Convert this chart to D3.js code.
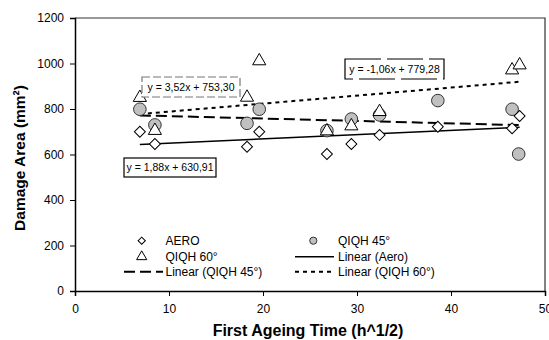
<!DOCTYPE html>
<html><head><meta charset="utf-8">
<script src="https://cdn.jsdelivr.net/npm/d3@7"></script>
<style>body{margin:0;background:#fff}svg{display:block;font-family:"Liberation Sans",Arial,sans-serif}</style>
</head><body><svg id="c" width="549" height="340"></svg>
<script>
// ---- data ----
const aeroX  = [6.9, 8.5, 18.3, 19.6, 26.8, 29.4, 32.4, 38.6, 46.5, 47.3];
const aeroY  = [700, 646, 634, 700, 602, 646, 686, 722, 715, 769];
const q45X   = [6.9, 8.5, 18.3, 19.6, 26.8, 29.4, 32.4, 38.6, 46.5, 47.2];
const q45Y   = [799, 730, 737, 799, 705, 756, 774, 837, 799, 602];
const q60X   = [6.9, 8.5, 18.3, 19.6, 26.8, 29.4, 32.4, 46.5, 47.3];
const q60Y   = [850, 705, 851, 1011, 703, 725, 788, 971, 993];
const trendNames = ["Linear (Aero)", "Linear (QIQH 45°)", "Linear (QIQH 60°)"];
const trendSlope = [1.88, -1.06, 3.52];
const trendIntercept = [630.91, 779.28, 753.30];
const trendLabels = ["y = 1,88x + 630,91", "y = -1,06x + 779,28", "y = 3,52x + 753,30"];
const xTicks = [0, 10, 20, 30, 40, 50];
const yTicks = [0, 200, 400, 600, 800, 1000, 1200];
const legendLabels = ["AERO", "QIQH 45°", "QIQH 60°", "Linear (Aero)", "Linear (QIQH 45°)", "Linear (QIQH 60°)"];

const svg = d3.select("#c");
const L = 75, R = 545, T = 18, B = 291;
const x = d3.scaleLinear().domain([0, 50]).range([L, R]);
const y = d3.scaleLinear().domain([0, 1200]).range([B, T]);

// frame
svg.append("path").attr("d", `M${L},${T}H${R}V${B}`).attr("fill", "none").attr("stroke", "#333").attr("stroke-width", 1.2);

// axes
const xa = svg.append("g").attr("transform", `translate(0,${B})`)
  .call(d3.axisBottom(x).tickValues(xTicks).tickFormat(d3.format("d")).tickSize(5).tickPadding(8));
const ya = svg.append("g").attr("transform", `translate(${L},0)`)
  .call(d3.axisLeft(y).tickValues(yTicks).tickFormat(d3.format("d")).tickSize(5).tickPadding(6));
[xa, ya].forEach(a => {
  a.select(".domain").attr("stroke", "#000").attr("stroke-width", 1.5);
  a.selectAll(".tick line").attr("stroke", "#000").attr("stroke-width", 1);
  a.selectAll("text").attr("font-size", 12).attr("fill", "#000").attr("font-family", "Liberation Sans, Arial, sans-serif");
});

// trend lines
const dashes = [null, "11,5", "4,4"];
const widths = [1.5, 2, 2];
const allX = aeroX.concat(q45X, q60X);
const xMin = d3.min(allX), xMax = d3.max(allX);
trendSlope.forEach((m, i) => {
  const p = svg.append("line")
    .attr("x1", x(xMin)).attr("y1", y(m * xMin + trendIntercept[i]))
    .attr("x2", x(xMax)).attr("y2", y(m * xMax + trendIntercept[i]))
    .attr("stroke", "#000").attr("stroke-width", widths[i]);
  if (dashes[i]) p.attr("stroke-dasharray", dashes[i]);
});

// markers
const diamond = d3.symbol().type(d3.symbolSquare).size(60);
const tri = d3.symbol().type(d3.symbolTriangle).size(75);
function drawCircles(xs, ys) {
  svg.append("g").selectAll("circle").data(xs).join("circle")
    .attr("cx", d => x(d)).attr("cy", (d, i) => y(ys[i])).attr("r", 6.3)
    .attr("fill", "#c0c0c0").attr("stroke", "#333").attr("stroke-width", 1);
}
function drawDiamonds(xs, ys) {
  svg.append("g").selectAll("path").data(xs).join("path")
    .attr("d", diamond)
    .attr("transform", (d, i) => `translate(${x(d)},${y(ys[i])}) rotate(45)`)
    .attr("fill", "#fff").attr("stroke", "#000").attr("stroke-width", 1);
}
function drawTris(xs, ys) {
  svg.append("g").selectAll("path").data(xs).join("path")
    .attr("d", tri)
    .attr("transform", (d, i) => `translate(${x(d)},${y(ys[i])})`)
    .attr("fill", "#fff").attr("stroke", "#000").attr("stroke-width", 1);
}
drawCircles(q45X, q45Y);
drawDiamonds(aeroX, aeroY);
drawTris(q60X, q60Y);

// equation labels
const labBoxes = [
  {x: 124, y: 158, w: 92, h: 19, stroke: "#000", dash: null},
  {x: 345, y: 59, w: 99, h: 20, stroke: "#000", dash: "36,6"},
  {x: 142, y: 77, w: 98, h: 20, stroke: "#777", dash: "8,3"}
];
trendLabels.forEach((t, i) => {
  const b = labBoxes[i];
  const r = svg.append("rect").attr("x", b.x).attr("y", b.y).attr("width", b.w).attr("height", b.h)
    .attr("fill", "#fff").attr("stroke", b.stroke).attr("stroke-width", 1.2);
  if (b.dash) r.attr("stroke-dasharray", b.dash);
  svg.append("text").attr("x", b.x + b.w / 2).attr("y", b.y + b.h / 2 + 3.8)
    .attr("text-anchor", "middle").attr("font-size", 10.5).text(t);
});

// legend
const colX = [141.7, 313.3], textX = [165.5, 338], rowY = [240.7, 256.7, 271.7];
const lineX = [[124, 163], [295, 334]];
legendLabels.forEach((lab, i) => {
  const col = i % 2, row = Math.floor(i / 2);
  const cx = colX[col], cy = rowY[row];
  if (i === 0) svg.append("path").attr("d", d3.symbol().type(d3.symbolSquare).size(26)).attr("transform", `translate(${cx},${cy}) rotate(45)`).attr("fill", "#fff").attr("stroke", "#000");
  else if (i === 1) svg.append("circle").attr("cx", cx).attr("cy", cy).attr("r", 3.6).attr("fill", "#c0c0c0").attr("stroke", "#333");
  else if (i === 2) svg.append("path").attr("d", d3.symbol().type(d3.symbolTriangle).size(45)).attr("transform", `translate(${cx},${cy})`).attr("fill", "#fff").attr("stroke", "#000");
  else {
    const k = i - 3;
    const l = svg.append("line").attr("x1", lineX[col][0]).attr("x2", lineX[col][1]).attr("y1", cy).attr("y2", cy)
      .attr("stroke", "#000").attr("stroke-width", widths[k]);
    if (dashes[k]) l.attr("stroke-dasharray", dashes[k]);
  }
  svg.append("text").attr("x", textX[col]).attr("y", cy + 4.2).attr("font-size", 12).text(lab);
});

// axis titles
svg.append("text").attr("x", 308).attr("y", 336).attr("text-anchor", "middle")
  .attr("font-size", 16).attr("font-weight", "bold").text("First Ageing Time (h^1/2)");
svg.append("text").attr("transform", "translate(25,158) rotate(-90)").attr("text-anchor", "middle")
  .attr("font-size", 15.5).attr("font-weight", "bold").text("Damage Area (mm²)");
</script></body></html>
